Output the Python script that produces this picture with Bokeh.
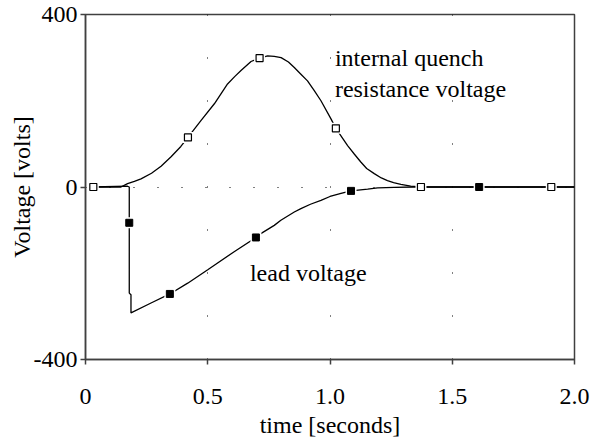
from bokeh.plotting import figure
from bokeh.models import Range1d, FixedTicker, Label
from bokeh.embed import file_html
from bokeh.resources import INLINE

# ---- data ----
x_ticks = [0, 0.5, 1.0, 1.5, 2.0]
x_tick_labels = ["0", "0.5", "1.0", "1.5", "2.0"]
y_ticks = [-400, 0, 400]
y_tick_labels = ["-400", "0", "400"]

quench_t = [0.032, 0.145, 0.172, 0.2, 0.227, 0.27, 0.309, 0.35, 0.39, 0.419,
            0.472, 0.527, 0.581, 0.61, 0.636, 0.677, 0.712, 0.745, 0.772, 0.8,
            0.83, 0.854, 0.88, 0.908, 0.935, 0.963, 1.004, 1.024, 1.072, 1.1,
            1.126, 1.15, 1.181, 1.21, 1.235, 1.26, 1.29, 1.33, 1.372, 1.905, 2.0]
quench_v = [0, 0, 8, 13, 19, 32, 48, 70, 94, 115,
            154, 193, 239, 256, 270, 291, 299, 304, 303, 300,
            290, 277, 262, 246, 224, 200, 158, 136, 96, 76,
            58, 43, 31, 21, 15, 10, 6, 2, 0, 0, 0]
quench_mark_t = [0.032, 0.419, 0.712, 1.024, 1.372, 1.905]
quench_mark_v = [0, 115, 299, 136, 0, 0]

lead_t = [0.032, 0.17, 0.179, 0.179, 0.186, 0.186, 0.268, 0.345, 0.418, 0.5,
          0.608, 0.697, 0.717, 0.772, 0.799, 0.854, 0.881, 0.92, 0.963, 1.0,
          1.045, 1.086, 1.154, 1.195, 1.262, 1.344, 1.61, 2.0]
lead_v = [0, 2, 0, -246, -250, -292, -269, -248, -223, -192,
          -150, -117, -108, -89, -77, -58, -50, -40, -31, -22,
          -15, -9, -5, -2, -1, 0, 0, 0]
lead_mark_t = [0.179, 0.345, 0.697, 1.086, 1.61]
lead_mark_v = [-83, -248, -117, -9, 0]

FONT = "Liberation Serif"
FS = "24px"
AX = "#404040"

p = figure(width=592, height=440, output_backend="svg", toolbar_location=None,
           x_range=Range1d(0, 2), y_range=Range1d(-400, 400),
           min_border_left=85, min_border_right=18, min_border_top=14, min_border_bottom=80)
p.background_fill_color = "white"
p.border_fill_color = "white"
p.outline_line_color = AX
p.outline_line_width = 1.5

p.xaxis.ticker = FixedTicker(ticks=x_ticks)
p.xaxis.major_label_overrides = {t: l for t, l in zip(x_ticks, x_tick_labels)}
p.yaxis.ticker = FixedTicker(ticks=y_ticks)
p.yaxis.major_label_overrides = {t: l for t, l in zip(y_ticks, y_tick_labels)}

for ax in (p.xaxis[0], p.yaxis[0]):
    ax.axis_line_color = AX
    ax.axis_line_width = 1.5
    ax.major_tick_line_color = AX
    ax.major_tick_line_width = 1.5
    ax.major_tick_out = 5
    ax.major_tick_in = 0
    ax.minor_tick_line_color = None
    ax.major_label_text_font = FONT
    ax.major_label_text_font_size = FS
    ax.major_label_text_color = "black"
    ax.axis_label_text_font = FONT
    ax.axis_label_text_font_size = FS
    ax.axis_label_text_font_style = "normal"
    ax.axis_label_text_color = "black"

p.xaxis.axis_label = "time [seconds]"
p.yaxis.axis_label = "Voltage [volts]"
p.xaxis.major_label_standoff = 24
p.xaxis.axis_label_standoff = 5
p.yaxis.major_label_standoff = 3
p.yaxis.axis_label_standoff = -4

p.xgrid.ticker = FixedTicker(ticks=[0.5, 1.0, 1.5])
p.xgrid.grid_line_color = "black"
p.xgrid.grid_line_width = 1
p.xgrid.grid_line_dash = "1 42"
p.ygrid.ticker = FixedTicker(ticks=[0])
p.ygrid.grid_line_color = "black"
p.ygrid.grid_line_width = 1
p.ygrid.grid_line_dash = "1 23"

p.line(quench_t, quench_v, line_color="black", line_width=1.3)
p.line(lead_t, lead_v, line_color="black", line_width=1.3)

# white backdrops give the small gaps round each marker
p.scatter(quench_mark_t, quench_mark_v, marker="square", size=11,
          fill_color="white", line_color=None)
p.scatter(lead_mark_t, lead_mark_v, marker="square", size=11,
          fill_color="white", line_color=None)
p.scatter(quench_mark_t, quench_mark_v, marker="square", size=7,
          fill_color="white", line_color="black", line_width=1.2)
p.scatter(lead_mark_t, lead_mark_v, marker="square", size=7,
          fill_color="black", line_color="black", line_width=1)

for txt, x, y in [("internal quench", 1.02, 300),
                  ("resistance voltage", 1.02, 228),
                  ("lead voltage", 0.6725, -200)]:
    p.add_layout(Label(x=x, y=y, text=txt, text_font=FONT, text_font_size=FS,
                       text_color="black", text_baseline="alphabetic", text_align="left"))

open("out.html", "w").write(file_html(p, INLINE))
